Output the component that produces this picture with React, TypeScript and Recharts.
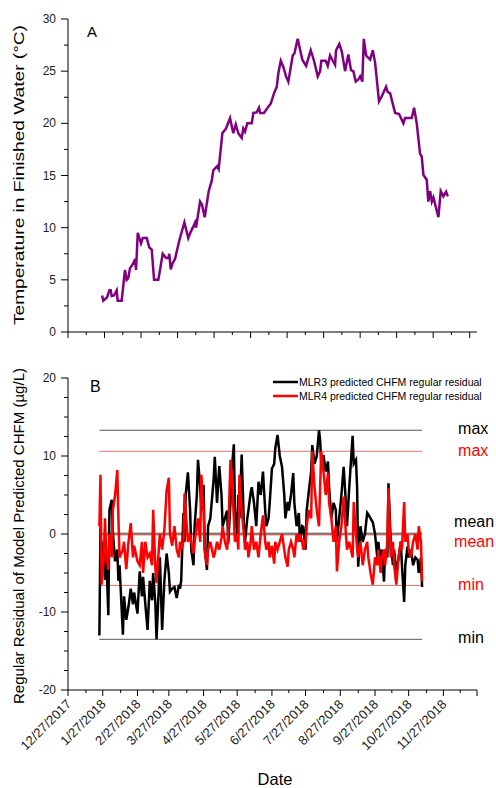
import React from 'react'
import { LineChart, Line, XAxis, YAxis, ReferenceLine } from 'recharts'

const FONT = '"Liberation Sans", Arial, sans-serif'

// panel A - finished water temperature, x = days since 12/27/2017
const tempDays = [
  28, 29, 32, 34, 35.1, 35.9, 37.8, 40, 40.8, 44.1,
  46.8, 48.2, 49.5, 50.9, 53.7, 55.1, 55.9, 57.3, 60, 61.4,
  64.7, 66.8, 68.8, 70.7, 74.2, 75.6, 77.8, 80.5, 82.4, 83.2,
  84.4, 86, 87.9, 91.5, 95.6, 98.8, 100.8, 102.5, 104.4, 105.2,
  108.5, 110.1, 112.3, 115.6, 118.1, 119.4, 122.5, 123.8, 126.8, 129.8,
  133.1, 135.8, 137.8, 139.9, 142.7, 144, 145.4, 147.3, 150.9, 152.3,
  155, 156.9, 157.8, 161, 164.6, 166.6, 169.3, 171.5, 172.8, 174.8,
  176.9, 179.1, 181, 184.6, 186, 188.7, 192.5, 195.6, 199.4, 202.1,
  205.2, 207.1, 208.1, 211.7, 213.4, 215.3, 217.5, 219.4, 220.2, 222.9,
  224.9, 227.6, 230.3, 232.5, 234.4, 236.4, 238.5, 240, 241.8, 243,
  244.9, 248.2, 250.4, 252.3, 255.5, 257.8, 261.3, 262.7, 264.6, 268.7,
  272, 275.5, 276.9, 282.4, 284.3, 286.5, 289.2, 290.6, 292, 294.7,
  296, 297.5, 298.9, 300.2, 304.3, 306.2, 308.4, 310.6, 312,
]
const tempValues = [
  3.5, 3.0, 3.3, 4.0, 4.0, 3.45, 3.5, 4.0, 3.0, 3.0,
  5.95, 5.0, 5.15, 6.1, 6.6, 7.0, 5.95, 9.5, 8.5, 9.0,
  9.0, 8.1, 7.9, 5.0, 5.0, 5.95, 7.5, 7.1, 7.1, 7.5,
  6.0, 6.6, 7.0, 8.8, 10.5, 9.0, 9.6, 10.0, 10.5, 10.0,
  12.5, 12.2, 11.0, 13.5, 14.5, 15.5, 15.9, 15.6, 19.05, 19.5,
  20.5, 19.05, 19.9, 19.05, 18.6, 19.5, 19.2, 20.0, 20.0, 21.0,
  21.05, 21.5, 21.0, 21.0, 21.6, 21.9, 22.9, 23.5, 24.8, 26.0,
  25.4, 24.5, 24.0, 26.5, 26.7, 28.1, 26.1, 25.5, 27.0, 26.0,
  24.5, 25.0, 26.0, 26.0, 25.5, 26.5, 26.0, 25.6, 27.0, 27.6,
  26.9, 25.0, 26.6, 25.1, 25.0, 24.0, 24.2, 24.5, 24.0, 28.1,
  26.5, 26.1, 27.0, 25.8, 22.1, 22.6, 23.5, 23.0, 22.9, 21.0,
  20.9, 20.0, 20.5, 20.5, 21.5, 20.0, 17.1, 16.8, 15.05, 14.6,
  12.5, 13.5, 12.5, 12.9, 11.0, 13.5, 13.0, 13.45, 13.0,
]

// panel B - regular residuals (ug/L), same day offsets for both models
const residualDays = [
  28, 29, 30, 32, 33, 34, 36, 37, 39, 40,
  42, 44, 45, 46, 49, 50, 52, 54, 56, 58,
  59, 62, 64, 66, 67, 69, 71, 73, 75, 76,
  78, 79, 81, 82, 84, 86, 88, 90, 91, 93,
  95, 97, 99, 100, 101, 103, 104, 105, 107, 109,
  110, 112, 113, 115, 116, 118, 119, 121, 122, 124,
  125, 127, 130, 131, 133, 135, 137, 138, 140, 142,
  143, 145, 146, 148, 149, 151, 152, 153, 155, 157,
  158, 160, 161, 163, 164, 166, 168, 170, 172, 174,
  176, 177, 179, 180, 182, 184, 185, 187, 189, 191,
  193, 194, 196, 197, 199, 201, 202, 204, 206, 207,
  209, 210, 212, 213, 215, 217, 218, 220, 222, 224,
  225, 226, 228, 230, 232, 233, 235, 237, 239, 240,
  242, 244, 246, 248, 249, 251, 254, 255, 257, 258,
  259, 261, 263, 265, 267, 268, 270, 272, 274, 276,
  277, 279, 280, 282, 283, 285, 286, 288, 290, 291,
  293, 295, 297, 298, 300, 301, 303, 304, 306, 308,
  310, 312, 313, 315, 316,
]
const mlr3Residual = [
  -13, 1, -3, -1, -5.9, -2, -10.4, 3.1, 4.4, 0.3,
  -3.5, -2, -6, -4, -12.9, -8, -11, -9.3, -7, -9,
  -7.5, -10.2, -4.8, -8, -5.5, -9, -12.3, -6, -8.5, -5,
  -9, -13.5, -7, -3, -12.3, -6, -2.5, -5, -7.4, -7,
  -6.8, -8.2, -6.5, -7, -6, 2.7, -1, 5, 7.9, 3,
  -2, -4, 1, 5, 9.5, 6, 3, 6.3, -2, -4.6,
  1, 2, 7, 9.9, 4, 8.7, 5, 1, 2, 3,
  -1.2, 4, 8, 11.5, 3, 0, 5, 2, 10.2, 1,
  -1, 2, 3, 5.3, 6, 4, 1, 6.7, 5, 8,
  3, 1, 2, 4, 8.4, 9, 11, 12.7, 10, 8.6,
  5, 2, 4.1, 3, 5, 7.8, 4, 1, 2.7, -1,
  1, 0.9, -2, 3, 5.6, 8, 11.4, 9, 10, 13.3,
  12, 9, 10.1, 8, 9.3, 6, 2, 4, 3.1, -1,
  2, 5, 8.6, 4, 1, 6, 12.6, 9, 9.5, 6,
  -4.2, 1, -1, 0, 2.7, 2.5, 2, 1.5, 0, -3,
  -1, -4, -2, -6.1, -2, -3, 6.5, -1, -4, -2,
  -5, -3, -1, -4, -8.7, -4, -1.6, -3, -2, -4,
  -3, -3.3, -5, -3, -6.8,
]
const mlr4Residual = [
  1, 7.6, -6.5, -3, 2, -2, -4.6, 0, -3, 3,
  5, 8.2, 2, -3, -2, -1, -4.5, -1, 1.4, -3,
  -1.5, -3.5, -4, -1, -5, -1, -3, -2.5, -4, 3.1,
  -4.5, -6.3, -2, 0, -2, 0.5, 5.6, 7.2, 0, -1.5,
  1, -2, -3, -1, -2, -1, 5.2, 3, -1, 0,
  -1, -2.5, -1, 1, 2, -1, 7.6, 3, -2, -4,
  -2, -1, -3, -2.5, -1, -2, -0.5, 1, -1, -2,
  0, 9.5, 8, 2, -1, 0, -2, 7.6, 3, 0,
  -2, -1, -3, -1, 1, -2, -1, -3, 0, 2.4,
  -1, -2, -1, -3, -1.5, -3.8, -1, -2, -1, 0,
  -2, -3, -4.2, -2, -1, -2, -3, 0, -1, 0,
  -1, -2, -1, 1, 3.1, 2, 10.6, 6, 3, 1,
  6, 10.6, 8, 5, 7.8, 4, 2, -1, 1, -4.8,
  -1, 1, 4.8, 0, -2, -1, -3, 4.1, 0, -2,
  -3, -1, -4, -2, -1, -3, -5, -6.5, -3, -4,
  -2, -5, -3, -2, -4, -1, 5.9, -3, -1, -4,
  -6.5, -3, -1, -2, 4.1, -1, 0, -2, -3, -1,
  0, -2, 1, -1, -6.1,
]

const statNames = ['max', 'mean', 'min']
const mlr3Stats = [13.3, 0.1, -13.5]
const mlr4Stats = [10.6, -0.1, -6.6]

const dateTickDays = [0, 31, 62, 90, 121, 151, 182, 212, 243, 274, 304, 335, 365]
const dateTickLabels = [
  '12/27/2017', '1/27/2018', '2/27/2018', '3/27/2018', '4/27/2018', '5/27/2018',
  '6/27/2018', '7/27/2018', '8/27/2018', '9/27/2018', '10/27/2018', '11/27/2018', '',
]

const tempData = tempDays.map((d, i) => ({ day: d, temp: tempValues[i] }))
const residualData = residualDays.map((d, i) => ({ day: d, mlr3: mlr3Residual[i], mlr4: mlr4Residual[i] }))

const tempXTicks = Array.from({ length: 23 }, (_, i) => i * 15)
const dateMinor = dateTickDays.slice(1).map((d, i) => Math.round((d + dateTickDays[i]) / 2))
const dateXTicks = [...dateTickDays, ...dateMinor].sort((a, b) => a - b)
const tempYTicks = Array.from({ length: 13 }, (_, i) => i * 2.5)
const resYTicks = Array.from({ length: 17 }, (_, i) => -20 + i * 2.5)

const TempXTick = (props: any) => {
  const { x, y, payload } = props
  const major = payload.value % 30 === 0
  return <line x1={x} x2={x} y1={y} y2={y + (major ? 6 : 3)} stroke="#000" />
}

const DateTick = (props: any) => {
  const { x, y, payload } = props
  const i = dateTickDays.indexOf(payload.value)
  const major = i >= 0
  const lx = x + 4
  const ly = y + 15
  return (
    <g>
      <line x1={x} x2={x} y1={y} y2={y + (major ? 6 : 3)} stroke="#000" />
      {major && dateTickLabels[i] ? (
        <text x={lx} y={ly} transform={`rotate(-45 ${lx} ${ly})`} textAnchor="end"
          fontSize={13} fontFamily={FONT} fill="#222">{dateTickLabels[i]}</text>
      ) : null}
    </g>
  )
}

const makeYTick = (step: number) => (props: any) => {
  const { x, y, payload } = props
  const major = payload.value % step === 0
  return (
    <g>
      <line x1={x} x2={x - (major ? 7 : 4)} y1={y} y2={y} stroke="#000" />
      {major ? (
        <text x={x - 12} y={y + 4} textAnchor="end" fontSize={12} fontFamily={FONT} fill="#222">{payload.value}</text>
      ) : null}
    </g>
  )
}

const sideLabel = (text: string, color: string, dx: number, dy: number) => (props: any) => {
  const vb = props.viewBox || {}
  return (
    <text x={(vb.x || 0) + (vb.width || 0) + dx} y={(vb.y || 0) + dy} fill={color} fontSize={16} fontFamily={FONT}>
      {text}
    </text>
  )
}

const firstDay = residualDays[0]
const lastDay = residualDays[residualDays.length - 1]

export default function App() {
  const statStyle = [
    { black: '#555', red: '#f07070', dx: 36, dyB: 4, dyR: 5 },
    { black: '#444', red: '#b03030', dx: 32, dyB: -6, dyR: 12 },
    { black: '#555', red: '#f07070', dx: 36, dyB: 4, dyR: 5 },
  ]
  return (
    <div style={{ position: 'absolute', left: 0, top: 0, width: 496, height: 788, background: '#fff', fontFamily: FONT }}>
      <div style={{ position: 'absolute', left: 0, top: 0 }}>
        <LineChart width={496} height={352} data={tempData} margin={{ top: 19, right: 19, left: 8, bottom: 10 }}>
          <XAxis dataKey="day" type="number" domain={[0, 336]} ticks={tempXTicks} interval={0}
            tickSize={0} tickMargin={0} tickLine={false} tick={TempXTick} height={10}
            axisLine={{ stroke: '#000' }} allowDataOverflow />
          <YAxis type="number" domain={[0, 30]} ticks={tempYTicks} interval={0} width={60}
            tickSize={0} tickMargin={0} tickLine={false} tick={makeYTick(5)} axisLine={{ stroke: '#000' }} />
          <Line dataKey="temp" type="linear" stroke="#800080" strokeWidth={2.5} dot={false} isAnimationActive={false} />
        </LineChart>
      </div>
      <div style={{ position: 'absolute', left: 0, top: 352 }}>
        <LineChart width={496} height={436} data={residualData} margin={{ top: 26, right: 19, left: 8, bottom: 0 }}>
          <XAxis dataKey="day" type="number" domain={[0, 365]} ticks={dateXTicks} interval={0}
            tickSize={0} tickMargin={0} tickLine={false} tick={DateTick} height={98}
            axisLine={{ stroke: '#000' }} />
          <YAxis type="number" domain={[-20, 20]} ticks={resYTicks} interval={0} width={60}
            tickSize={0} tickMargin={0} tickLine={false} tick={makeYTick(10)} axisLine={{ stroke: '#000' }} />
          {statNames.map((name, i) => (
            <ReferenceLine key={'b' + name} segment={[{ x: firstDay, y: mlr3Stats[i] }, { x: lastDay, y: mlr3Stats[i] }]}
              stroke={statStyle[i].black} strokeWidth={1}
              label={sideLabel(name, '#000', statStyle[i].dx, statStyle[i].dyB)} />
          ))}
          {statNames.map((name, i) => (
            <ReferenceLine key={'r' + name} segment={[{ x: firstDay, y: mlr4Stats[i] }, { x: lastDay, y: mlr4Stats[i] }]}
              stroke={statStyle[i].red} strokeWidth={1}
              label={sideLabel(name, '#ff0000', statStyle[i].dx, statStyle[i].dyR)} />
          ))}
          <Line dataKey="mlr3" type="linear" stroke="#000" strokeWidth={2.5} dot={false} isAnimationActive={false} />
          <Line dataKey="mlr4" type="linear" stroke="#ff0000" strokeWidth={2.5} dot={false} isAnimationActive={false} />
        </LineChart>
      </div>
      <svg width={496} height={788} style={{ position: 'absolute', left: 0, top: 0, pointerEvents: 'none' }}>
        <text x={87} y={37} fontSize={15} fontFamily={FONT} fill="#000">A</text>
        <text x={90} y={392} fontSize={16} fontFamily={FONT} fill="#000">B</text>
        <line x1={273} x2={298} y1={382} y2={382} stroke="#000" strokeWidth={2.5} />
        <text x={299} y={386} fontSize={10.5} fontFamily={FONT} fill="#000">MLR3 predicted CHFM regular residual</text>
        <line x1={273} x2={298} y1={396} y2={396} stroke="#ff0000" strokeWidth={2.5} />
        <text x={299} y={400} fontSize={10.5} fontFamily={FONT} fill="#000">MLR4 predicted CHFM regular residual</text>
        <text x={275} y={785} textAnchor="middle" fontSize={16.5} fontFamily={FONT} fill="#000">Date</text>
        <text x={18} y={175} transform="rotate(-90 18 175)" textAnchor="middle" dominantBaseline="central"
          fontSize={15} fontFamily={FONT} fill="#000" textLength={300} lengthAdjust="spacingAndGlyphs">
          Temperature in Finished Water (°C)
        </text>
        <text x={18} y={536} transform="rotate(-90 18 536)" textAnchor="middle" dominantBaseline="central"
          fontSize={15} fontFamily={FONT} fill="#000" textLength={336} lengthAdjust="spacingAndGlyphs">
          Regular Residual of Model Predicted CHFM (µg/L)
        </text>
      </svg>
    </div>
  )
}
